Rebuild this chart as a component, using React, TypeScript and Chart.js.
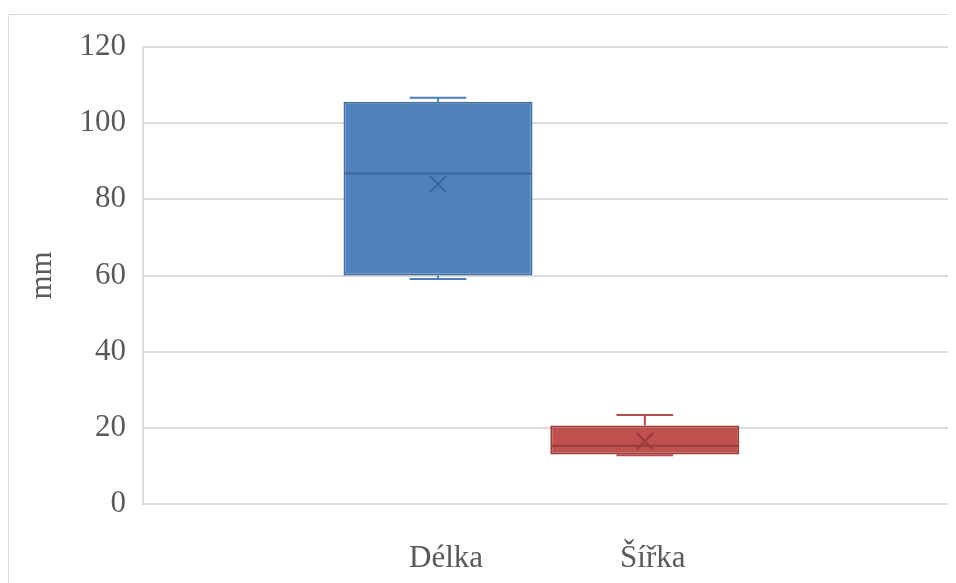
import React, { useEffect, useRef } from "react";
import { Chart, registerables } from "chart.js";

Chart.register(...registerables);

// Box-and-whisker summary per measured dimension (mm)
const categories = ["Délka", "Šířka"];
const minimum = [59.1, 12.8];
const quartile1 = [60.0, 13.0];
const median = [86.8, 15.3];
const quartile3 = [105.6, 20.6];
const maximum = [106.7, 23.4];
const mean = [84.0, 16.5];

const yTicks = [0, 20, 40, 60, 80, 100, 120];

const fillColors = ["#4F81BD", "#C0504D"];
const edgeColors = ["#41719C", "#9B3D3B"];
const whiskerColors = ["#4A7EBB", "#B64A48"];
const markColors = ["#3C6593", "#963937"];

const FONT = '"Liberation Serif", "Times New Roman", serif';
const TEXT = "#595959";
const GRID = "#DCDCDC";

// Draws the light frame around the chart object
const framePlugin = {
  id: "frame",
  beforeDraw(chart: any) {
    const { ctx, width, height } = chart;
    ctx.save();
    ctx.fillStyle = "#ffffff";
    ctx.fillRect(0, 0, width, height);
    ctx.strokeStyle = "#D9D9D9";
    ctx.lineWidth = 1;
    ctx.beginPath();
    ctx.moveTo(0.5, height);
    ctx.lineTo(0.5, 6.5);
    ctx.lineTo(width, 6.5);
    ctx.stroke();
    ctx.restore();
  },
};

// Whiskers, median line and mean marker on top of each box
const boxPlugin = {
  id: "boxDetails",
  afterDatasetsDraw(chart: any) {
    const { ctx } = chart;
    const y = chart.scales.y;
    const meta = chart.getDatasetMeta(0);
    meta.data.forEach((bar: any, i: number) => {
      const cx = bar.x;
      const w = bar.width;
      const left = cx - w / 2;
      const right = cx + w / 2;
      const capHalf = w * 0.15;

      ctx.save();
      ctx.lineCap = "butt";

      // whiskers
      ctx.strokeStyle = whiskerColors[i];
      ctx.lineWidth = 2;
      const yMax = y.getPixelForValue(maximum[i]);
      const yQ3 = y.getPixelForValue(quartile3[i]);
      const yMin = y.getPixelForValue(minimum[i]);
      const yQ1 = y.getPixelForValue(quartile1[i]);
      ctx.beginPath();
      ctx.moveTo(cx, yQ3);
      ctx.lineTo(cx, yMax);
      ctx.moveTo(cx - capHalf, yMax);
      ctx.lineTo(cx + capHalf, yMax);
      ctx.moveTo(cx, yQ1);
      ctx.lineTo(cx, yMin);
      ctx.moveTo(cx - capHalf, yMin);
      ctx.lineTo(cx + capHalf, yMin);
      ctx.stroke();

      // median
      ctx.strokeStyle = markColors[i];
      ctx.lineWidth = 2;
      const yMed = y.getPixelForValue(median[i]);
      ctx.beginPath();
      ctx.moveTo(left + 1, yMed);
      ctx.lineTo(right - 1, yMed);
      ctx.stroke();

      // mean marker
      const yMean = y.getPixelForValue(mean[i]);
      const s = 8;
      ctx.lineWidth = 2;
      ctx.beginPath();
      ctx.moveTo(cx - s, yMean - s);
      ctx.lineTo(cx + s, yMean + s);
      ctx.moveTo(cx + s, yMean - s);
      ctx.lineTo(cx - s, yMean + s);
      ctx.stroke();
      ctx.restore();
    });
  },
};

export default function App() {
  const canvasRef = useRef<HTMLCanvasElement | null>(null);

  useEffect(() => {
    if (!canvasRef.current) return;
    const positions = categories.map((_, i) => i + 1);
    const chart = new Chart(canvasRef.current, {
      type: "bar",
      data: {
        datasets: [
          {
            label: "mm",
            data: categories.map((_, i) => ({
              x: positions[i],
              y: [quartile1[i], quartile3[i]],
            })) as any,
            backgroundColor: fillColors,
            borderColor: edgeColors,
            borderWidth: 2,
            borderSkipped: false,
            categoryPercentage: 1,
            barPercentage: 0.914,
          },
        ],
      },
      options: {
        animation: false,
        responsive: true,
        maintainAspectRatio: false,
        layout: { padding: { top: 39, right: 4, bottom: 0, left: 0 } },
        plugins: {
          legend: { display: false },
          tooltip: { enabled: false },
        },
        scales: {
          x: {
            type: "linear",
            offset: false,
            min: -0.4265,
            max: 3.4855,
            grid: { display: false, drawTicks: false },
            border: { display: false },
            afterBuildTicks(scale: any) {
              scale.ticks = positions.map((v) => ({ value: v }));
            },
            afterFit(scale: any) {
              scale.height = 79;
            },
            ticks: {
              labelOffset: 8,
              padding: 36,
              maxRotation: 0,
              autoSkip: false,
              color: TEXT,
              font: { family: FONT, size: 31 },
              callback: (v: any) => categories[Number(v) - 1] ?? "",
            },
          },
          y: {
            min: 0,
            max: 120,
            afterBuildTicks(scale: any) {
              scale.ticks = yTicks.map((v) => ({ value: v }));
            },
            afterFit(scale: any) {
              scale.width = 135;
            },
            grid: { color: GRID, lineWidth: 2, drawTicks: false },
            border: { display: true, color: GRID, width: 2 },
            ticks: {
              padding: 17,
              color: TEXT,
              font: { family: FONT, size: 31 },
            },
            title: {
              display: true,
              text: "mm",
              color: TEXT,
              font: { family: FONT, size: 31 },
              padding: { top: 16, bottom: 0 },
            },
          },
        },
      },
      plugins: [framePlugin, boxPlugin],
    });
    return () => chart.destroy();
  }, []);

  return (
    <div style={{ width: 948, height: 575, position: "relative" }}>
      <canvas ref={canvasRef} />
    </div>
  );
}
